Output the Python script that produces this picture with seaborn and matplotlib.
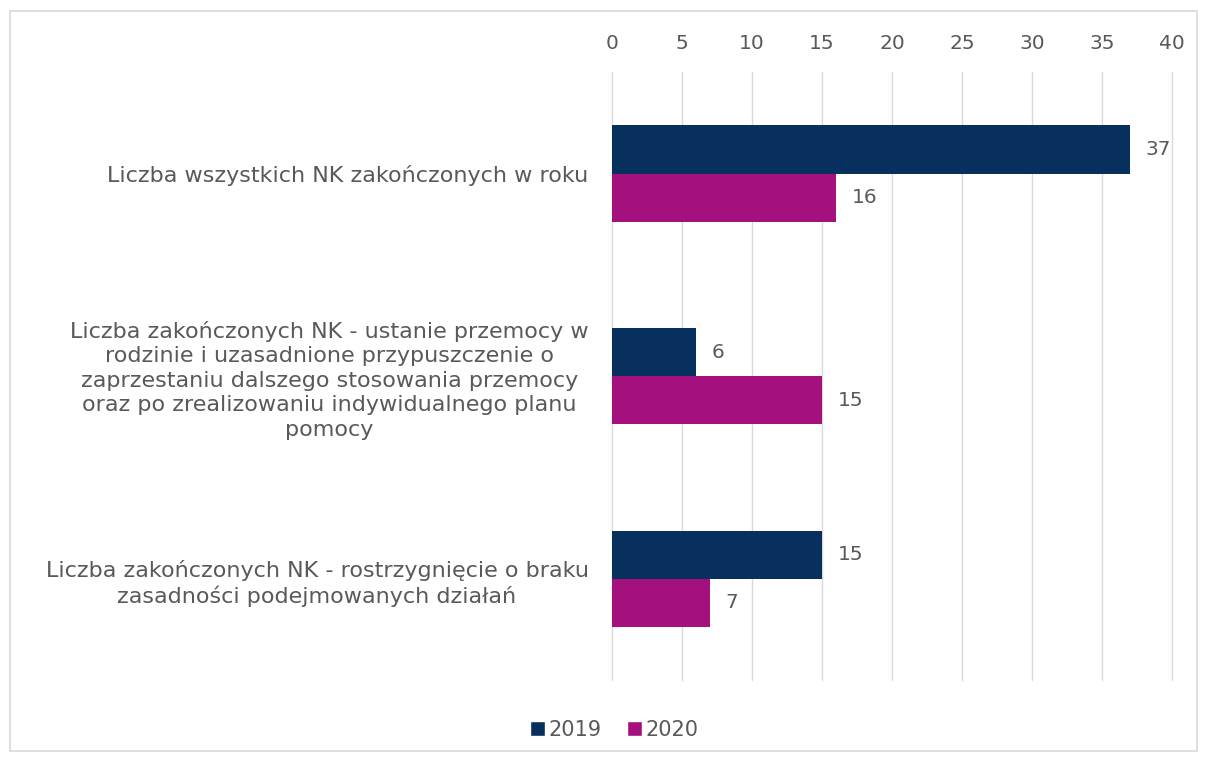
import pandas as pd
import numpy as np
import matplotlib.pyplot as plt
import seaborn as sns
from matplotlib.patches import Rectangle, Patch

# chart data
categories = [
    "Liczba wszystkich NK zakończonych w roku",
    "Liczba zakończonych NK - ustanie przemocy w\nrodzinie i uzasadnione przypuszczenie o\nzaprzestaniu dalszego stosowania przemocy\noraz po zrealizowaniu indywidualnego planu\npomocy",
    "Liczba zakończonych NK - rostrzygnięcie o braku\nzasadności podejmowanych działań",
]
years = ["2019", "2020"]
values_2019 = [37, 6, 15]
values_2020 = [16, 15, 7]
x_ticks = [0, 5, 10, 15, 20, 25, 30, 35, 40]

colors = {"2019": "#07305F", "2020": "#A5107F"}
text_color = "#595959"

df = pd.DataFrame({
    "category": categories * 2,
    "year": [years[0]] * 3 + [years[1]] * 3,
    "value": values_2019 + values_2020,
})

sns.set_style("white")
plt.rcParams['font.family'] = ['DejaVu Sans']

fig = plt.figure(figsize=(12.05, 7.6), dpi=100)
ax = fig.add_axes([0.508, 0.105, 0.9726 - 0.508, 0.905 - 0.105])

sns.barplot(data=df, y="category", x="value", hue="year", orient="h",
            palette=colors, width=0.475, ax=ax, legend=False, saturation=1,
            linewidth=0)

# value labels
for cont in ax.containers:
    ax.bar_label(cont, padding=11, fontsize=14.5, color=text_color)

ax.set_xlim(0, 40)
ax.set_xticks(x_ticks)
ax.xaxis.tick_top()
ax.tick_params(axis="x", length=0, pad=14, labelsize=14.5, labelcolor=text_color)
ax.tick_params(axis="y", length=0, pad=17, labelsize=16, labelcolor=text_color)
for lab in ax.get_yticklabels():
    lab.set_multialignment("center")
    lab.set_linespacing(1.28)
ax.set_xlabel("")
ax.set_ylabel("")
ax.grid(axis="x", color="#D9D9D9", linewidth=1)
for gl in ax.get_xgridlines():
    gl.set_clip_on(False)
ax.set_axisbelow(True)
for s in ax.spines.values():
    s.set_visible(False)

# legend
handles = [Patch(facecolor=colors[y], label=y) for y in years]
fig.legend(handles=handles, loc="center", bbox_to_anchor=(0.51, 0.04), ncol=2,
           frameon=False, fontsize=15, labelcolor=text_color,
           handlelength=0.7, handleheight=0.7, handletextpad=0.2, columnspacing=1.2)

# outer border
fig.patches.append(Rectangle((0.008, 0.012), 0.985, 0.973, transform=fig.transFigure,
                             fill=False, edgecolor="#D9D9D9", linewidth=1.2))

fig.savefig("out.png", dpi=100)
